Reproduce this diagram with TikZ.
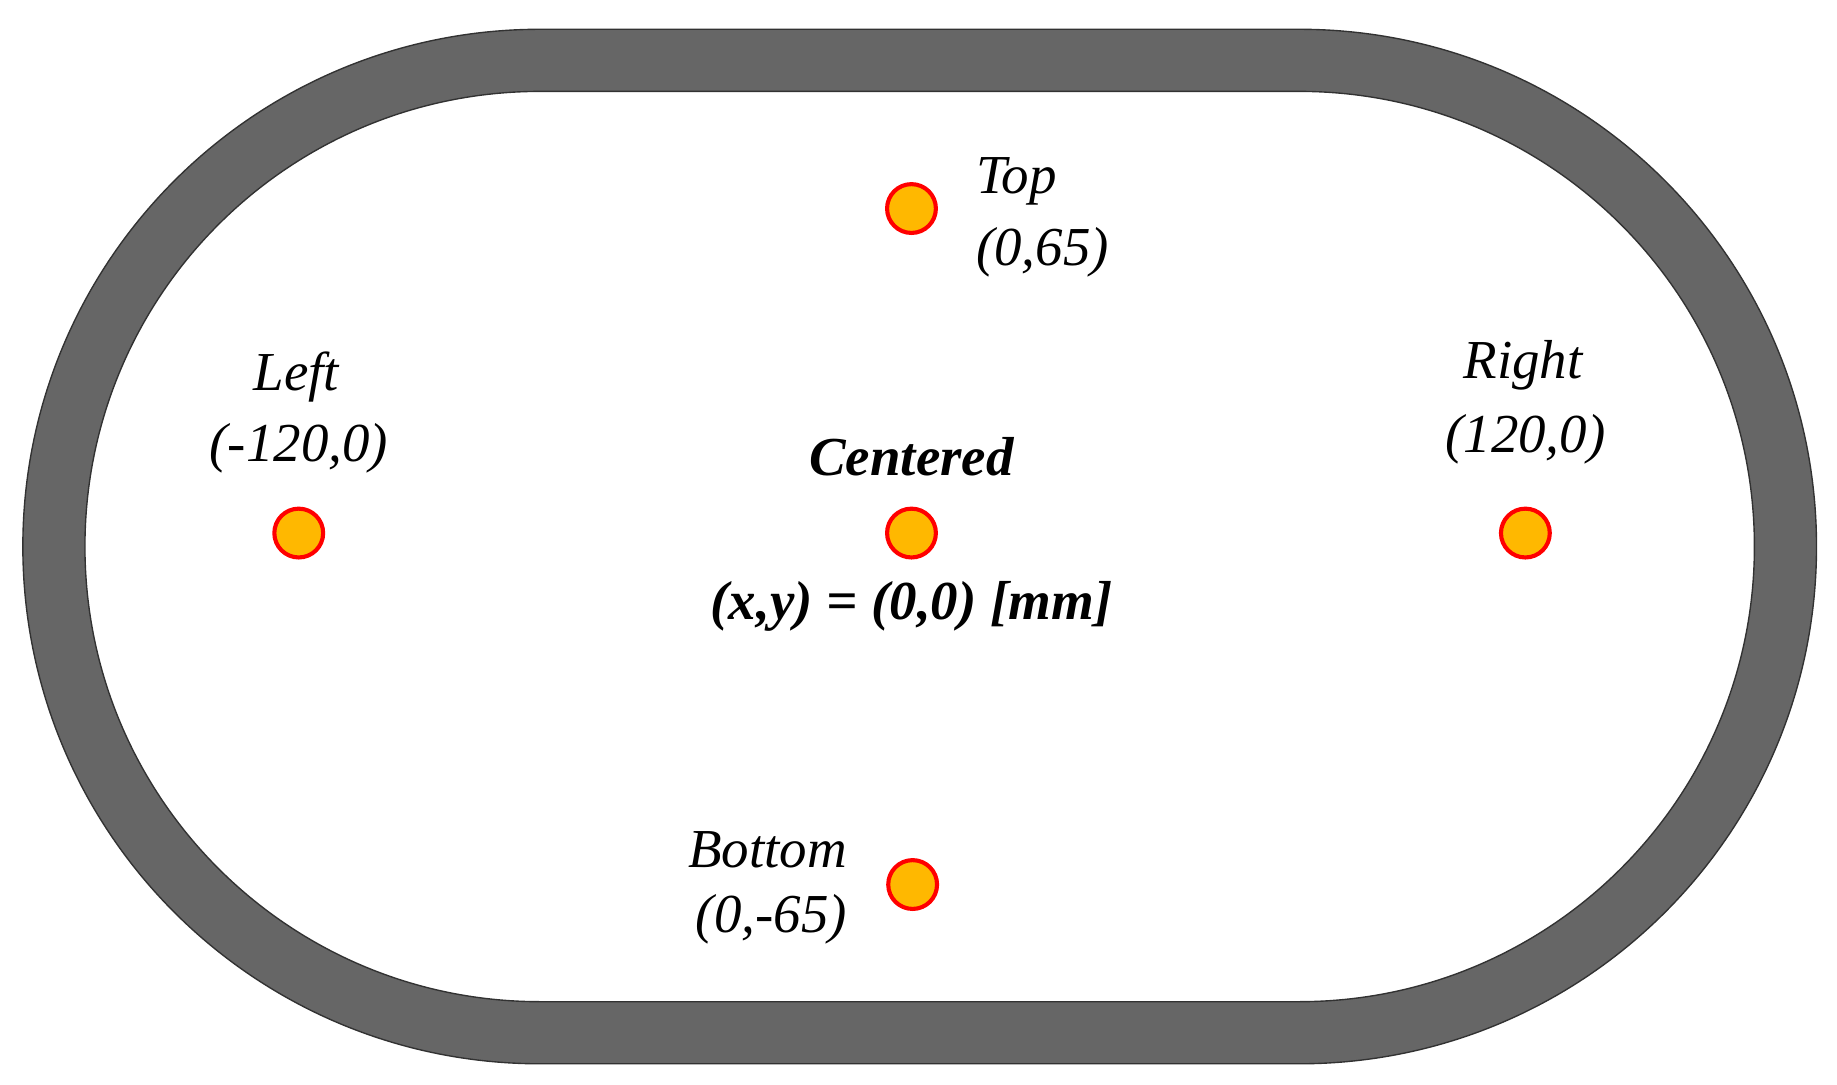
\documentclass[tikz,border=0pt]{standalone}
\usepackage{fontspec}
\setmainfont{Liberation Serif}
\definecolor{ringgray}{RGB}{102,102,102}
\definecolor{ringedge}{RGB}{50,50,50}
\definecolor{ptorange}{RGB}{255,184,0}
\begin{document}
\begin{tikzpicture}[x=0.03cm,y=-0.03cm,
  pt/.style={circle,draw=red,line width=3pt,fill=ptorange,minimum size=1.25cm,inner sep=0},
  lbl/.style={font=\fontsize{40}{50}\selectfont\itshape,inner sep=0},
  blbl/.style={font=\fontsize{40}{50}\selectfont\bfseries\itshape,inner sep=0}]
\useasboundingbox (0,0) rectangle (1568,926);
\fill[white] (0,0) rectangle (1568,926);
\fill[fill=ringgray,draw=ringedge,line width=1pt,even odd rule]
  (461,25) -- (1109,25) arc[start angle=-90,end angle=90,radius=441.5] -- (461,908) arc[start angle=90,end angle=270,radius=441.5] -- cycle
  (461,78) -- (1109,78) arc[start angle=-90,end angle=90,radius=388.5] -- (461,855) arc[start angle=90,end angle=270,radius=388.5] -- cycle;
\node[pt] (top) at (778,178) {};
\node[pt] (left) at (255,455) {};
\node[pt] (cen) at (778,455) {};
\node[pt] (right) at (1302,455) {};
\node[pt] (bot) at (779,755) {};
\node[lbl,anchor=west] (t1) at (833,155) {Top};
\node[lbl,anchor=west] (t2) at (833,215) {(0,65)};
\node[lbl] (l1) at (253,322) {Left};
\node[lbl] (l2) at (255,383) {(-120,0)};
\node[lbl] (r1) at (1300,312) {Right};
\node[lbl] (r2) at (1302,375) {(120,0)};
\node[blbl] (c1) at (778,390) {Centered};
\node[blbl] (c2) at (778,518) {(x,y) = (0,0) [mm]};
\node[lbl,anchor=east] (b1) at (723,725) {Bottom};
\node[lbl,anchor=east] (b2) at (723,785) {(0,-65)};
\end{tikzpicture}
\end{document}
